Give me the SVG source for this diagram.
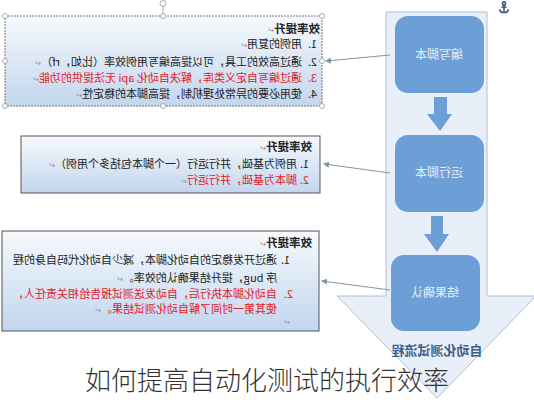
<svg xmlns="http://www.w3.org/2000/svg" width="534" height="400" viewBox="0 0 534 400">
<style>
text{font-family:"Noto Sans CJK SC","Noto Sans",sans-serif;}
.t{font-size:11px;fill:#222;}
.r{font-size:11px;fill:#e0202a;}
.h{font-size:11.5px;font-weight:bold;fill:#222;}
.pm{font-size:8px;fill:#999;font-weight:normal;}
.box{fill:url(#g);}
.node{fill:#6b9fd5;}
.nt{font-size:12px;fill:#e6eef8;text-anchor:middle;}
.conn{stroke:#7d97a6;stroke-width:1;fill:none;marker-end:url(#ah);}
.hd{fill:#fff;stroke:#999;stroke-width:0.8;}
</style>
<defs>
<linearGradient id="g" x1="0" y1="0" x2="0" y2="1">
<stop offset="0" stop-color="#f6f9fd"/>
<stop offset="1" stop-color="#c2d6ed"/>
</linearGradient>
<marker id="ah" markerWidth="6" markerHeight="6" refX="5" refY="3" orient="auto" markerUnits="userSpaceOnUse">
<path d="M0,0 L6,3 L0,6 Z" fill="#7d97a6"/>
</marker>
</defs>
<rect width="534" height="400" fill="#fff"/>

<g id="flow">
<path d="M386,12 H487 V296 H536 L437,398 L337,296 H386 Z" fill="#e9eff8" stroke="#aebfd2" stroke-width="1"/>
<text transform="translate(437,355) scale(-1,1)" style="font-size:13px;font-weight:bold;fill:#3d5f8e;text-anchor:middle">自动化测试流程</text>
</g>

<g id="node1">
<rect class="node" x="395" y="16" width="89" height="77" rx="13"/>
<text class="nt" transform="translate(439,59) scale(-1,1)">编写脚本</text>
</g>
<g id="node2">
<rect class="node" x="395" y="135" width="89" height="77" rx="13"/>
<text class="nt" transform="translate(439,177) scale(-1,1)">运行脚本</text>
</g>
<g id="node3">
<rect class="node" x="391" y="255" width="89" height="76" rx="13"/>
<text class="nt" transform="translate(435,297) scale(-1,1)">结果确认</text>
</g>

<g id="arrows">
<path class="node" d="M434,97 H447 V114 H452 L440,131 L427,114 H434 Z"/>
<path class="node" d="M431,216 H443 V234 H449 L437,252 L424,234 H431 Z"/>
</g>

<g id="box1">
<rect class="box" x="5" y="16" width="317" height="90" stroke="#777" stroke-width="1" stroke-dasharray="2,1"/>
<line x1="163" y1="6" x2="163" y2="16" stroke="#999" stroke-width="0.8"/>
<circle class="hd" cx="163" cy="3.5" r="3"/>
<circle class="hd" cx="5" cy="16" r="2.5"/><circle class="hd" cx="163" cy="16" r="2.5"/><circle class="hd" cx="322" cy="16" r="2.5"/>
<circle class="hd" cx="5" cy="61" r="2.5"/><circle class="hd" cx="322" cy="61" r="2.5"/>
<circle class="hd" cx="5" cy="106" r="2.5"/><circle class="hd" cx="163" cy="106" r="2.5"/><circle class="hd" cx="322" cy="106" r="2.5"/>
<text class="h" transform="translate(320,33) scale(-1,1)">效率提升<tspan class="pm">↵</tspan></text>
<text class="t" transform="translate(317,48) scale(-1,1)">1.</text>
<text class="t" transform="translate(302,48) scale(-1,1)">用例的复用<tspan class="pm">↵</tspan></text>
<text class="t" transform="translate(317,66) scale(-1,1)">2.</text>
<text class="t" transform="translate(302,66) scale(-1,1)">通过高效的工具，可以提高编写用例效率（比如，rf）<tspan class="pm">↵</tspan></text>
<text class="r" transform="translate(317,82) scale(-1,1)">3.</text>
<text class="r" transform="translate(302,82) scale(-1,1)">通过编写自定义类库，解决自动化 api 无法提供的功能<tspan class="pm">↵</tspan></text>
<text class="t" transform="translate(317,98) scale(-1,1)">4.</text>
<text class="t" transform="translate(302,98) scale(-1,1)">使用必要的异常处理机制，提高脚本的稳定性<tspan class="pm">↵</tspan></text>
</g>

<g id="box2">
<rect class="box" x="21" y="136" width="299" height="57" stroke="#555" stroke-width="1"/>
<text class="h" transform="translate(312,151) scale(-1,1)">效率提升<tspan class="pm">↵</tspan></text>
<text class="t" transform="translate(309,168) scale(-1,1)">1.</text>
<text class="t" transform="translate(297,168) scale(-1,1)">用例为基础，并行运行（一个脚本包括多个用例）<tspan class="pm">↵</tspan></text>
<text class="r" transform="translate(309,184) scale(-1,1)">2.</text>
<text class="r" transform="translate(297,184) scale(-1,1)">脚本为基础，并行运行<tspan class="pm">↵</tspan></text>
</g>

<g id="box3">
<rect class="box" x="2" y="231" width="317" height="100" stroke="#555" stroke-width="1"/>
<text class="h" transform="translate(312,247) scale(-1,1)">效率提升<tspan class="pm">↵</tspan></text>
<text class="t" transform="translate(290,264) scale(-1,1)">1.</text>
<text class="t" transform="translate(277,264) scale(-1,1)">通过开发稳定的自动化脚本，减少自动化代码自身的程</text>
<text class="t" transform="translate(277,282) scale(-1,1)">序 bug，提升结果确认的效率。<tspan class="pm">↵</tspan></text>
<text class="r" transform="translate(293,298) scale(-1,1)">2.</text>
<text class="r" transform="translate(277,298) scale(-1,1)">自动化脚本执行后，自动发送测试报告给相关责任人，</text>
<text class="r" transform="translate(277,313) scale(-1,1)">使其第一时间了解自动化测试结果。<tspan class="pm">↵</tspan></text>
<text class="pm" transform="translate(290,325) scale(-1,1)">↵</text>
</g>

<g id="connectors">
<line class="conn" x1="390" y1="55" x2="326" y2="61"/>
<line class="conn" x1="390" y1="173" x2="324" y2="164"/>
<line class="conn" x1="390" y1="290" x2="322" y2="281"/>
</g>

<g id="anchor" fill="none" stroke="#3c5a80" stroke-width="1.6">
<circle cx="504" cy="3.5" r="1.6"/>
<line x1="504" y1="5" x2="504" y2="12"/>
<line x1="501.5" y1="7" x2="506.5" y2="7"/>
<path d="M499.5,9.5 Q500,12.5 504,12.5 Q508,12.5 508.5,9.5"/>
</g>

<text id="caption" x="85" y="390" style="font-size:26px;fill:#333;font-weight:300">如何提高自动化测试的执行效率</text>
</svg>
